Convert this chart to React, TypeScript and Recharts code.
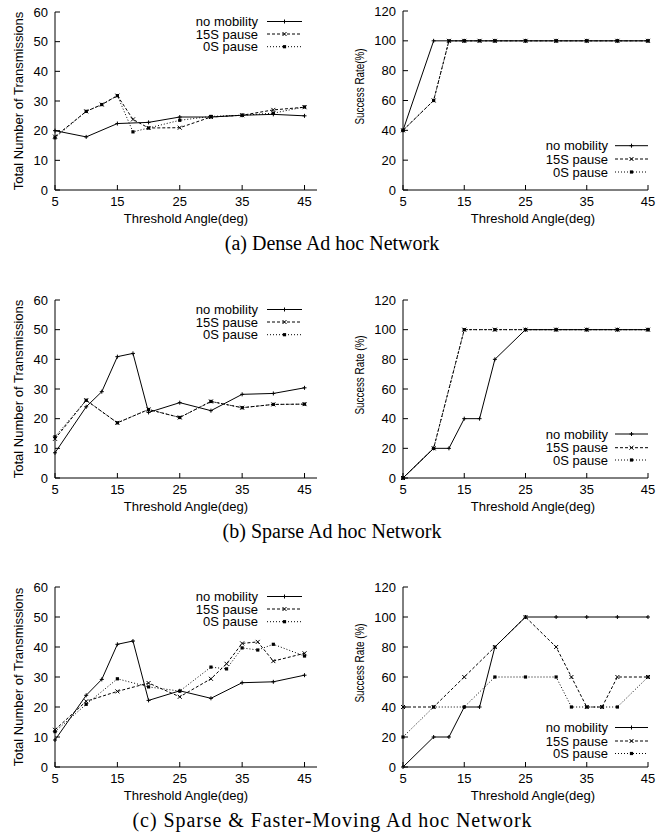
import React from 'react';
import { LineChart, Line, XAxis, YAxis, Legend } from 'recharts';

const FONT = '"Liberation Sans", Arial, Helvetica, sans-serif';
const SERIF = '"Liberation Serif", "Times New Roman", Times, serif';

// ---------- labels & ticks ----------
const seriesNames = ['no mobility', '15S pause', '0S pause'];
const angleTicks = [5, 15, 25, 35, 45];
const transTicks = [0, 10, 20, 30, 40, 50, 60];
const rateTicks = [0, 20, 40, 60, 80, 100, 120];
const xTitle = 'Threshold Angle(deg)';
const transTitle = 'Total Number of Transmissions';
const rateTitles = ['Success Rate(%)', 'Success Rate (%)', 'Success Rate (%)'];
const captions = [
  '(a) Dense Ad hoc Network',
  '(b) Sparse Ad hoc Network',
  '(c) Sparse & Faster-Moving Ad hoc Network',
];

// ---------- x positions (threshold angles) ----------
const anglesFull = [5, 10, 12.5, 15, 17.5, 20, 25, 30, 35, 40, 45];
const anglesMain = [5, 10, 15, 20, 25, 30, 35, 40, 45];
const anglesFast = [5, 10, 15, 20, 25, 30, 32.5, 35, 37.5, 40, 45];

// ---------- (a) Dense ----------
const denseTransNoMobility = [20, 17.9, 22.4, 22.8, 24.6, 24.6, 25.2, 25.5, 25];
const denseTrans15S = [18, 26.5, 28.8, 31.8, 23.8, 20.9, 21, 24.6, 25.2, 27, 27.9];
const denseTrans0S = [17.6, 26.5, 28.8, 31.8, 19.6, 20.9, 23.5, 24.8, 25.2, 25.9, 28];
const denseRateNoMobility = [40, 100, 100, 100, 100, 100, 100, 100, 100];
const denseRate15S = [40, 60, 100, 100, 100, 100, 100, 100, 100, 100, 100];
const denseRate0S = [40, 60, 100, 100, 100, 100, 100, 100, 100, 100, 100];

// ---------- (b) Sparse ----------
const sparseTransNoMobility = [8.5, 24, 29.1, 40.9, 42, 22.1, 25.4, 22.7, 28.2, 28.5, 30.4];
const sparseTrans15S = [13.2, 26.2, 18.6, 23.1, 20.4, 25.8, 23.7, 24.8, 24.9];
const sparseTrans0S = [13.9, 26.2, 18.6, 23.1, 20.4, 25.8, 23.7, 24.8, 24.9];
const sparseRateNoMobility = [0, 20, 20, 40, 40, 80, 100, 100, 100, 100, 100];
const sparseRate15S = [0, 20, 100, 100, 100, 100, 100, 100, 100];
const sparseRate0S = [0, 20, 100, 100, 100, 100, 100, 100, 100];

// ---------- (c) Sparse & Faster-Moving ----------
const fastTransNoMobility = [9, 23.9, 29.2, 40.9, 42, 22.2, 25.4, 22.9, 28.1, 28.4, 30.6];
const fastTrans15S = [12.4, 21.9, 25.2, 28, 23.4, 29.4, 34.4, 41.2, 41.7, 35.3, 37.9];
const fastTrans0S = [11.8, 20.9, 29.4, 26.7, 25.3, 33.3, 32.7, 39.7, 39, 40.9, 37];
const fastRateNoMobility = [0, 20, 20, 40, 40, 80, 100, 100, 100, 100, 100];
const fastRate15S = [40, 40, 60, 80, 100, 80, 60, 40, 40, 60, 60];
const fastRate0S = [20, 40, 40, 60, 60, 60, 40, 40, 40, 40, 60];

type Kind = 'plus' | 'cross' | 'square';
type Series = { name: string; xs: number[]; ys: number[]; dash?: string; marker: Kind };

const styles: { dash?: string; marker: Kind }[] = [
  { dash: undefined, marker: 'plus' },
  { dash: '3 2', marker: 'cross' },
  { dash: '1 2', marker: 'square' },
];

const mk = (xsList: number[][], ysList: number[][]): Series[] =>
  seriesNames.map((name, i) => ({ name, xs: xsList[i], ys: ysList[i], ...styles[i] }));

const zip = (xs: number[], ys: number[]) => xs.map((x, i) => ({ x, y: ys[i] }));

function Marker({ kind, cx, cy }: { kind: Kind; cx: number; cy: number }) {
  if (cx == null || cy == null) return <g />;
  if (kind === 'plus')
    return (
      <g stroke="#000" strokeWidth={1}>
        <line x1={cx - 2} x2={cx + 2} y1={cy} y2={cy} />
        <line x1={cx} x2={cx} y1={cy - 2} y2={cy + 2} />
      </g>
    );
  if (kind === 'cross')
    return (
      <g stroke="#000" strokeWidth={1}>
        <line x1={cx - 2} y1={cy - 2} x2={cx + 2} y2={cy + 2} />
        <line x1={cx - 2} y1={cy + 2} x2={cx + 2} y2={cy - 2} />
      </g>
    );
  return <rect x={cx - 1.6} y={cy - 1.6} width={3.2} height={3.2} fill="#000" />;
}

const emptyTick = () => <g />;
const tickStyle = { fontSize: 13, fill: '#000', fontFamily: FONT };

type PanelProps = {
  isLeft: boolean;
  plotTop: number;
  plotBottom: number;
  xMax: number;
  yMax: number;
  yTicks: number[];
  series: Series[];
  legendRows: number[];
};

function Panel({ isLeft, plotTop, plotBottom, xMax, yMax, yTicks, series, legendRows }: PanelProps) {
  const chartLeft = isLeft ? 0 : 332;
  const plotLeft = isLeft ? 55 : 403;
  const plotRight = isLeft ? 317 : 648;
  const width = 332;
  const plotH = plotBottom - plotTop;
  const height = plotH + 40;
  const margin = { top: 10, right: chartLeft + width - plotRight, bottom: 0, left: 0 };
  const textRight = 140;
  const lx1 = isLeft ? 149 : 147;
  const lx2 = isLeft ? 184 : 180;
  const legendLeft = (isLeft ? 258 : 608) - chartLeft - textRight;

  const legendContent = () => (
    <svg width={200} height={180} style={{ overflow: 'visible', display: 'block' }}>
      {series.map((s, i) => (
        <g key={s.name}>
          <text
            x={textRight}
            y={legendRows[i] + 4.5}
            textAnchor="end"
            fontSize={13}
            fontFamily={FONT}
            fill="#000"
          >
            {s.name}
          </text>
          <line x1={lx1} x2={lx2} y1={legendRows[i]} y2={legendRows[i]} stroke="#000" strokeWidth={1} strokeDasharray={s.dash} />
          <Marker kind={s.marker} cx={(lx1 + lx2) / 2} cy={legendRows[i]} />
        </g>
      ))}
    </svg>
  );

  return (
    <div style={{ position: 'absolute', left: chartLeft, top: plotTop - 10, width, height }}>
      <LineChart width={width} height={height} margin={margin}>
        <XAxis
          xAxisId="b"
          type="number"
          dataKey="x"
          domain={[5, xMax]}
          ticks={angleTicks}
          interval={0}
          height={30}
          tickSize={-5}
          tickMargin={12}
          tick={tickStyle}
          axisLine={{ stroke: '#000' }}
          tickLine={{ stroke: '#000' }}
        />
        <XAxis
          xAxisId="t"
          orientation="top"
          type="number"
          domain={[5, xMax]}
          ticks={angleTicks}
          interval={0}
          height={0}
          tickSize={-5}
          tick={emptyTick}
          axisLine={{ stroke: '#000' }}
          tickLine={{ stroke: '#000' }}
        />
        <YAxis
          yAxisId="l"
          type="number"
          domain={[0, yMax]}
          ticks={yTicks}
          interval={0}
          width={plotLeft - chartLeft}
          tickSize={-5}
          tickMargin={12}
          tick={tickStyle}
          axisLine={{ stroke: '#000' }}
          tickLine={{ stroke: '#000' }}
        />
        <YAxis
          yAxisId="r"
          orientation="right"
          type="number"
          domain={[0, yMax]}
          ticks={yTicks}
          interval={0}
          width={0}
          tickSize={-5}
          tick={emptyTick}
          axisLine={{ stroke: '#000' }}
          tickLine={{ stroke: '#000' }}
        />
        {series.map((s) => (
          <Line
            key={s.name}
            xAxisId="b"
            yAxisId="l"
            data={zip(s.xs, s.ys)}
            dataKey="y"
            name={s.name}
            type="linear"
            stroke="#000"
            strokeWidth={1}
            strokeDasharray={s.dash}
            isAnimationActive={false}
            activeDot={false}
            dot={(p: any) => <Marker key={`${s.name}-${p.index}`} kind={s.marker} cx={p.cx} cy={p.cy} />}
          />
        ))}
        <Legend
          layout="vertical"
          align="center"
          verticalAlign="middle"
          wrapperStyle={{ left: legendLeft, top: 10, width: 200, height: 180, margin: 0, padding: 0 }}
          content={legendContent}
        />
      </LineChart>
    </div>
  );
}

const legendLeftRows = [9.5, 22, 34.7];

export default function App() {
  const panels = [
    { top: 12, bottom: 190, rTop: 11, rBottom: 190, rRows: [134.7, 148, 161] },
    { top: 300, bottom: 478, rTop: 300, rBottom: 478, rRows: [134, 147.7, 160] },
    { top: 587, bottom: 767, rTop: 587, rBottom: 767, rRows: [140.5, 154, 166.5] },
  ];
  const transSeries = [
    mk([anglesMain, anglesFull, anglesFull], [denseTransNoMobility, denseTrans15S, denseTrans0S]),
    mk([anglesFull, anglesMain, anglesMain], [sparseTransNoMobility, sparseTrans15S, sparseTrans0S]),
    mk([anglesFull, anglesFast, anglesFast], [fastTransNoMobility, fastTrans15S, fastTrans0S]),
  ];
  const rateSeries = [
    mk([anglesMain, anglesFull, anglesFull], [denseRateNoMobility, denseRate15S, denseRate0S]),
    mk([anglesFull, anglesMain, anglesMain], [sparseRateNoMobility, sparseRate15S, sparseRate0S]),
    mk([anglesFull, anglesFast, anglesFast], [fastRateNoMobility, fastRate15S, fastRate0S]),
  ];

  return (
    <div style={{ position: 'absolute', left: 0, top: 0, width: 664, height: 833, background: '#fff', overflow: 'hidden' }}>
      {panels.map((p, i) => (
        <React.Fragment key={i}>
          <Panel
            isLeft
            plotTop={p.top}
            plotBottom={p.bottom}
            xMax={47}
            yMax={60}
            yTicks={transTicks}
            series={transSeries[i]}
            legendRows={legendLeftRows}
          />
          <Panel
            isLeft={false}
            plotTop={p.rTop}
            plotBottom={p.rBottom}
            xMax={45}
            yMax={120}
            yTicks={rateTicks}
            series={rateSeries[i]}
            legendRows={p.rRows}
          />
        </React.Fragment>
      ))}
      <svg width={664} height={833} style={{ position: 'absolute', left: 0, top: 0, pointerEvents: 'none' }}>
        {panels.map((p, i) => (
          <g key={i} fontFamily={FONT} fontSize={13} fill="#000">
            <text x={186} y={p.bottom + 33} textAnchor="middle">{xTitle}</text>
            <text x={533} y={p.rBottom + 33} textAnchor="middle">{xTitle}</text>
            <text
              transform={`translate(23, ${(p.top + p.bottom) / 2}) rotate(-90)`}
              textAnchor="middle"
            >
              {transTitle}
            </text>
            <text
              transform={`translate(364, ${(p.rTop + p.rBottom) / 2 - 14}) rotate(-90)`}
              textAnchor="middle"
              fontSize={12}
              textLength={i === 0 ? 76 : 79}
              lengthAdjust="spacingAndGlyphs"
            >
              {rateTitles[i]}
            </text>
            <text
              x={332}
              y={p.bottom + 60}
              textAnchor="middle"
              fontFamily={SERIF}
              fontSize={20}
              textLength={i === 2 ? 399 : undefined}
              lengthAdjust="spacing"
            >
              {captions[i]}
            </text>
          </g>
        ))}
      </svg>
    </div>
  );
}
